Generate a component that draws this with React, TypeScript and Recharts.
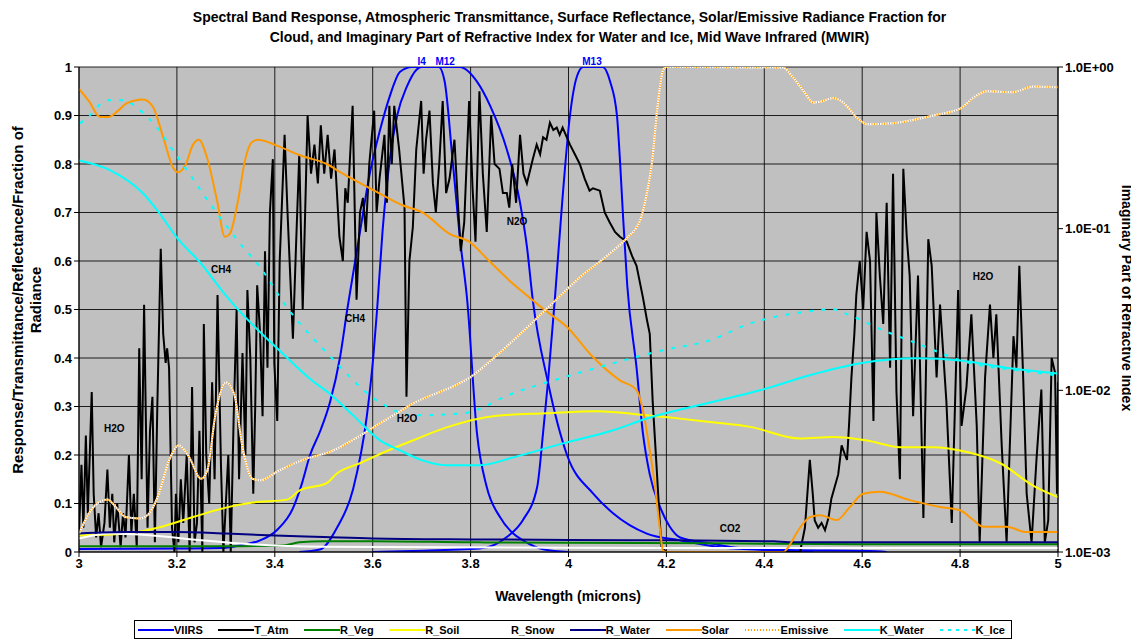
import { LineChart, Line, XAxis, YAxis, CartesianGrid, ReferenceDot } from 'recharts'

type Pt = [number, number]

const xTicks = [3, 3.2, 3.4, 3.6, 3.8, 4, 4.2, 4.4, 4.6, 4.8, 5]
const leftTicks = [0, 0.1, 0.2, 0.3, 0.4, 0.5, 0.6, 0.7, 0.8, 0.9, 1]
const rightTicks = [0.001, 0.01, 0.1, 1]

// VIIRS band responses (three bands share one legend entry)
const viirsI4: Pt[] = [
  [3.0, 0.006], [3.2, 0.007], [3.288, 0.008], [3.33, 0.014], [3.37, 0.024], [3.404, 0.045], [3.437, 0.09],
  [3.455, 0.14], [3.472, 0.2], [3.493, 0.25], [3.513, 0.31], [3.533, 0.4], [3.548, 0.5], [3.574, 0.66],
  [3.594, 0.78], [3.615, 0.87], [3.635, 0.94], [3.656, 0.99], [3.68, 1.0], [3.72, 1.0], [3.778, 1.0],
  [3.813, 0.97], [3.84, 0.92], [3.874, 0.83], [3.901, 0.72], [3.915, 0.63], [3.927, 0.52], [3.958, 0.35],
  [3.997, 0.2], [4.05, 0.121], [4.091, 0.08], [4.16, 0.038], [4.228, 0.024], [4.31, 0.01], [4.4, 0.004], [4.5, 0.0],
]
const viirsM12: Pt[] = [
  [3.45, 0.0], [3.492, 0.005], [3.527, 0.05], [3.56, 0.13], [3.588, 0.28], [3.601, 0.4], [3.609, 0.5],
  [3.62, 0.66], [3.635, 0.81], [3.65, 0.9], [3.67, 0.96], [3.69, 0.995], [3.7, 1.0], [3.735, 1.0],
  [3.747, 0.97], [3.763, 0.81], [3.779, 0.64], [3.793, 0.52], [3.813, 0.245], [3.833, 0.134],
  [3.86, 0.072], [3.887, 0.038], [3.907, 0.024], [3.95, 0.005], [4.0, 0.0],
]
const viirsM13: Pt[] = [
  [3.6, 0.0], [3.68, 0.002], [3.819, 0.007], [3.874, 0.031], [3.907, 0.066], [3.936, 0.134], [3.948, 0.245],
  [3.958, 0.35], [3.972, 0.52], [3.987, 0.72], [4.003, 0.9], [4.017, 0.98], [4.03, 1.0], [4.07, 1.0],
  [4.085, 0.97], [4.099, 0.9], [4.105, 0.81], [4.111, 0.7], [4.12, 0.55], [4.139, 0.38], [4.152, 0.245],
  [4.166, 0.16], [4.187, 0.093], [4.207, 0.052], [4.228, 0.03], [4.289, 0.018], [4.35, 0.008], [4.45, 0.004],
  [4.616, 0.002], [4.65, 0.0],
]

const tAtm: Pt[] = [
  [3.0, 0.04], [3.005, 0.18], [3.009, 0.05], [3.014, 0.24], [3.018, 0.08], [3.022, 0.2], [3.026, 0.33], [3.03, 0.12],
  [3.035, 0.03], [3.04, 0.08], [3.045, 0.01], [3.052, 0.06], [3.058, 0.17], [3.063, 0.05], [3.068, 0.12], [3.072, 0.02],
  [3.078, 0.1], [3.085, 0.01], [3.09, 0.08], [3.095, 0.03], [3.102, 0.2], [3.107, 0.04], [3.112, 0.12], [3.118, 0.01],
  [3.123, 0.42], [3.128, 0.15], [3.133, 0.51], [3.14, 0.05], [3.145, 0.25], [3.15, 0.32], [3.155, 0.02], [3.16, 0.3],
  [3.167, 0.625], [3.172, 0.45], [3.177, 0.39], [3.18, 0.42], [3.184, 0.38], [3.19, 0.05], [3.195, 0.0], [3.198, 0.12],
  [3.203, 0.02], [3.208, 0.15], [3.213, 0.06], [3.22, 0.2], [3.226, 0.0], [3.231, 0.34], [3.236, 0.02], [3.241, 0.06],
  [3.246, 0.25], [3.252, 0.0], [3.255, 0.47], [3.26, 0.2], [3.266, 0.1], [3.272, 0.35], [3.277, 0.15], [3.283, 0.53],
  [3.29, 0.18], [3.295, 0.0], [3.3, 0.1], [3.305, 0.2], [3.31, 0.0], [3.316, 0.28], [3.322, 0.5], [3.327, 0.15],
  [3.334, 0.41], [3.34, 0.2], [3.344, 0.54], [3.35, 0.4], [3.356, 0.12], [3.36, 0.3], [3.364, 0.55], [3.37, 0.45],
  [3.375, 0.28], [3.38, 0.62], [3.385, 0.38], [3.39, 0.7], [3.396, 0.81], [3.399, 0.39], [3.405, 0.27], [3.41, 0.6],
  [3.42, 0.86], [3.426, 0.7], [3.437, 0.44], [3.443, 0.62], [3.45, 0.82], [3.457, 0.5], [3.462, 0.7], [3.467, 0.9],
  [3.474, 0.78], [3.481, 0.84], [3.488, 0.76], [3.494, 0.88], [3.501, 0.78], [3.508, 0.86], [3.515, 0.77], [3.522, 0.83],
  [3.532, 0.65], [3.539, 0.6], [3.544, 0.75], [3.549, 0.72], [3.559, 0.92], [3.567, 0.52], [3.574, 0.7], [3.58, 0.73],
  [3.586, 0.66], [3.593, 0.8], [3.603, 0.91], [3.608, 0.7], [3.614, 0.77], [3.624, 0.86], [3.629, 0.72], [3.634, 0.92],
  [3.639, 0.8], [3.644, 0.92], [3.654, 0.83], [3.665, 0.71], [3.669, 0.32], [3.675, 0.6], [3.682, 0.67], [3.689, 0.83],
  [3.699, 0.93], [3.704, 0.78], [3.709, 0.85], [3.716, 0.91], [3.723, 0.76], [3.729, 0.7], [3.736, 0.8], [3.743, 0.93],
  [3.75, 0.74], [3.757, 0.77], [3.767, 0.85], [3.774, 0.72], [3.78, 0.62], [3.787, 0.68], [3.797, 0.93], [3.804, 0.75],
  [3.81, 0.64], [3.818, 0.95], [3.825, 0.78], [3.833, 0.66], [3.842, 0.9], [3.849, 0.8], [3.859, 0.79], [3.866, 0.74],
  [3.874, 0.74], [3.879, 0.71], [3.885, 0.8], [3.893, 0.72], [3.901, 0.86], [3.908, 0.78], [3.915, 0.76], [3.927, 0.81],
  [3.935, 0.84], [3.942, 0.82], [3.948, 0.855], [3.955, 0.85], [3.962, 0.885], [3.969, 0.87], [3.976, 0.875], [3.982, 0.86],
  [3.988, 0.875], [4.003, 0.84], [4.013, 0.82], [4.023, 0.8], [4.033, 0.77], [4.043, 0.745], [4.05, 0.75], [4.064, 0.745],
  [4.074, 0.7], [4.084, 0.68], [4.095, 0.66], [4.105, 0.65], [4.119, 0.64], [4.13, 0.61], [4.139, 0.59], [4.152, 0.525],
  [4.16, 0.48], [4.166, 0.45], [4.172, 0.31], [4.18, 0.175], [4.186, 0.07], [4.19, 0.01], [4.2, 0.0], [4.473, 0.0],
  [4.483, 0.05], [4.493, 0.19], [4.499, 0.12], [4.503, 0.065], [4.51, 0.05], [4.517, 0.06], [4.524, 0.045], [4.531, 0.07],
  [4.537, 0.11], [4.551, 0.16], [4.558, 0.22], [4.565, 0.2], [4.569, 0.19], [4.573, 0.26], [4.578, 0.36], [4.584, 0.45],
  [4.588, 0.53], [4.595, 0.6], [4.602, 0.5], [4.609, 0.66], [4.616, 0.6], [4.623, 0.27], [4.629, 0.7], [4.636, 0.57],
  [4.643, 0.47], [4.65, 0.72], [4.657, 0.38], [4.663, 0.78], [4.67, 0.33], [4.677, 0.15], [4.684, 0.79], [4.691, 0.65],
  [4.697, 0.57], [4.704, 0.28], [4.714, 0.57], [4.725, 0.07], [4.735, 0.645], [4.742, 0.59], [4.752, 0.36], [4.759, 0.51],
  [4.772, 0.31], [4.783, 0.06], [4.796, 0.54], [4.803, 0.26], [4.813, 0.34], [4.823, 0.49], [4.834, 0.26], [4.84, 0.02],
  [4.851, 0.36], [4.861, 0.51], [4.868, 0.4], [4.874, 0.49], [4.885, 0.22], [4.895, 0.02], [4.909, 0.445], [4.915, 0.38],
  [4.921, 0.59], [4.929, 0.355], [4.936, 0.12], [4.946, 0.02], [4.956, 0.19], [4.966, 0.335], [4.973, 0.02], [4.98, 0.065],
  [4.987, 0.4], [4.994, 0.37], [4.998, 0.12], [5.0, 0.35],
]

const rVeg: Pt[] = [
  [3.0, 0.012], [3.3, 0.012], [3.42, 0.014], [3.45, 0.02], [3.5, 0.022], [3.6, 0.022], [3.8, 0.02],
  [4.0, 0.019], [4.3, 0.018], [4.6, 0.016], [5.0, 0.016],
]
const rSoil: Pt[] = [
  [3.0, 0.034], [3.097, 0.038], [3.165, 0.051], [3.233, 0.072], [3.302, 0.092], [3.355, 0.102], [3.425, 0.108],
  [3.451, 0.127], [3.506, 0.142], [3.527, 0.162], [3.574, 0.183], [3.615, 0.202], [3.682, 0.23], [3.751, 0.257],
  [3.854, 0.281], [3.956, 0.286], [4.058, 0.29], [4.16, 0.282], [4.228, 0.275], [4.289, 0.268], [4.371, 0.258],
  [4.473, 0.234], [4.54, 0.237], [4.61, 0.23], [4.677, 0.216], [4.745, 0.216], [4.814, 0.206], [4.882, 0.183],
  [4.949, 0.137], [5.0, 0.113],
]
const rSnow: Pt[] = [
  [3.0, 0.028], [3.063, 0.038], [3.15, 0.034], [3.25, 0.024], [3.35, 0.016], [3.5, 0.011], [4.0, 0.009],
  [4.5, 0.008], [5.0, 0.008],
]
const rWater: Pt[] = [
  [3.0, 0.038], [3.1, 0.041], [3.2, 0.041], [3.3, 0.038], [3.4, 0.034], [3.5, 0.031], [3.6, 0.028],
  [3.8, 0.026], [4.0, 0.025], [4.2, 0.024], [4.42, 0.022], [4.45, 0.02], [5.0, 0.02],
]
const solar: Pt[] = [
  [3.0, 0.955], [3.02, 0.93], [3.043, 0.897], [3.06, 0.897], [3.08, 0.91], [3.097, 0.925], [3.131, 0.933],
  [3.151, 0.918], [3.172, 0.855], [3.192, 0.793], [3.202, 0.783], [3.217, 0.797], [3.233, 0.84], [3.245, 0.85],
  [3.261, 0.815], [3.282, 0.725], [3.298, 0.65], [3.308, 0.656], [3.325, 0.725], [3.339, 0.807], [3.353, 0.845],
  [3.366, 0.85], [3.404, 0.838], [3.451, 0.818], [3.506, 0.8], [3.539, 0.78], [3.594, 0.75], [3.631, 0.73],
  [3.661, 0.715], [3.702, 0.7], [3.757, 0.656], [3.797, 0.64], [3.838, 0.6], [3.879, 0.56], [3.92, 0.525],
  [3.95, 0.5], [3.997, 0.464], [4.05, 0.402], [4.105, 0.354], [4.139, 0.334], [4.152, 0.292], [4.166, 0.21],
  [4.177, 0.134], [4.187, 0.045], [4.193, 0.003], [4.2, 0.0], [4.44, 0.0], [4.445, 0.005], [4.473, 0.05],
  [4.493, 0.072], [4.514, 0.076], [4.548, 0.066], [4.575, 0.093], [4.602, 0.12], [4.636, 0.124], [4.697, 0.107],
  [4.759, 0.093], [4.8, 0.086], [4.827, 0.066], [4.847, 0.052], [4.895, 0.052], [4.936, 0.041], [5.0, 0.041],
]
const emissive: Pt[] = [
  [3.0, 0.038], [3.02, 0.079], [3.041, 0.103], [3.058, 0.108], [3.075, 0.093], [3.095, 0.072], [3.123, 0.069],
  [3.143, 0.079], [3.163, 0.12], [3.184, 0.189], [3.204, 0.22], [3.225, 0.196], [3.249, 0.151], [3.262, 0.168],
  [3.279, 0.285], [3.3, 0.35], [3.317, 0.326], [3.334, 0.216], [3.354, 0.151], [3.371, 0.148], [3.409, 0.168],
  [3.463, 0.192], [3.511, 0.206], [3.615, 0.265], [3.682, 0.306], [3.799, 0.36], [3.887, 0.436], [3.956, 0.502],
  [4.023, 0.566], [4.091, 0.621], [4.12, 0.648], [4.146, 0.683], [4.16, 0.739], [4.171, 0.807], [4.181, 0.91],
  [4.193, 0.993], [4.2, 1.0], [4.438, 0.999], [4.459, 0.978], [4.48, 0.951], [4.5, 0.927], [4.52, 0.93],
  [4.54, 0.936], [4.561, 0.927], [4.589, 0.896], [4.61, 0.882], [4.663, 0.884], [4.745, 0.9], [4.8, 0.914],
  [4.826, 0.936], [4.855, 0.95], [4.908, 0.948], [4.949, 0.96], [5.0, 0.958],
]
// imaginary refractive index (right, log axis)
const kWater: Pt[] = [
  [3.0, 0.264], [3.063, 0.23], [3.131, 0.165], [3.165, 0.124], [3.2, 0.088], [3.247, 0.062], [3.302, 0.038],
  [3.321, 0.0326], [3.409, 0.0177], [3.476, 0.0115], [3.511, 0.0096], [3.56, 0.007], [3.615, 0.0049],
  [3.656, 0.00425], [3.7, 0.0037], [3.751, 0.00344], [3.819, 0.00344], [3.887, 0.00385], [3.989, 0.0047],
  [4.091, 0.00566], [4.16, 0.0067], [4.289, 0.0084], [4.391, 0.01], [4.493, 0.0124], [4.596, 0.0147],
  [4.712, 0.0158], [4.8, 0.0153], [4.902, 0.0137], [5.0, 0.0127],
]
const kIce: Pt[] = [
  [3.002, 0.448], [3.022, 0.502], [3.057, 0.622], [3.09, 0.622], [3.125, 0.539], [3.159, 0.424], [3.192, 0.305],
  [3.221, 0.229], [3.253, 0.165], [3.288, 0.1175], [3.329, 0.0811], [3.37, 0.0577], [3.425, 0.0326],
  [3.511, 0.0165], [3.615, 0.0084], [3.682, 0.007], [3.784, 0.0072], [3.887, 0.0096], [3.989, 0.012],
  [4.091, 0.0147], [4.193, 0.0177], [4.289, 0.0204], [4.371, 0.0259], [4.473, 0.0303], [4.54, 0.0317],
  [4.575, 0.0291], [4.643, 0.0235], [4.712, 0.0195], [4.814, 0.0149], [4.916, 0.0133], [4.998, 0.0124],
]

const gasLabels = [
  { text: 'H2O', x: 3.072, y: 0.255 },
  { text: 'CH4', x: 3.29, y: 0.582 },
  { text: 'CH4', x: 3.564, y: 0.482 },
  { text: 'H2O', x: 3.67, y: 0.276 },
  { text: 'N2O', x: 3.895, y: 0.681 },
  { text: 'CO2', x: 4.33, y: 0.049 },
  { text: 'H2O', x: 4.847, y: 0.569 },
]
const bandLabels = [
  { text: 'I4', x: 3.7, y: 1.012 },
  { text: 'M12', x: 3.748, y: 1.012 },
  { text: 'M13', x: 4.048, y: 1.012 },
]

const legendItems = [
  { name: 'VIIRS', color: '#0000FF' },
  { name: 'T_Atm', color: '#000000' },
  { name: 'R_Veg', color: '#008000' },
  { name: 'R_Soil', color: '#FFFF00' },
  { name: 'R_Snow', color: '#FFFFFF' },
  { name: 'R_Water', color: '#000080' },
  { name: 'Solar', color: '#FF9900' },
  { name: 'Emissive', color: '#FF9900', dotted: true },
  { name: 'K_Water', color: '#00FFFF' },
  { name: 'K_Ice', color: '#00FFFF', dashed: true },
]

const pts = (arr: Pt[]) => arr.map(([x, y]) => ({ x, y }))

const FONT = '"Liberation Sans", Arial, sans-serif'
const tickStyle = { fontSize: 13, fontWeight: 'bold', fill: '#000', fontFamily: FONT }

const fmtLeft = (v: number) => (v === 0 || v === 1 ? String(v) : v.toFixed(1))
const fmtRight = (v: number) => {
  const e = Math.round(Math.log10(v))
  return `1.0E${e < 0 ? '-' : '+'}${String(Math.abs(e)).padStart(2, '0')}`
}
const fmtX = (v: number) => (Number.isInteger(v) ? String(v) : v.toFixed(1))

function Legend() {
  return (
    <div
      style={{
        position: 'absolute', left: 126, top: 612, width: 878, height: 19,
        border: '1px solid #000', background: '#fff', display: 'flex', alignItems: 'center',
        justifyContent: 'space-between', padding: '0 6px 0 3px', boxSizing: 'border-box',
        fontFamily: FONT, fontSize: 11, fontWeight: 'bold',
      }}
    >
      {legendItems.map((it) => (
        <div key={it.name} style={{ display: 'flex', alignItems: 'center' }}>
          <svg width={36} height={8}>
            {it.dotted && <line x1={0} y1={4} x2={36} y2={4} stroke="#fff" strokeWidth={2} />}
            <line
              x1={0} y1={4} x2={36} y2={4} stroke={it.color} strokeWidth={2}
              strokeDasharray={it.dotted ? '1 2' : it.dashed ? '3 5' : undefined}
            />
          </svg>
          <span>{it.name}</span>
        </div>
      ))}
    </div>
  )
}

export default function App() {
  const common = { dot: false, activeDot: false, isAnimationActive: false, strokeWidth: 2 } as const
  return (
    <div style={{ position: 'relative', width: 1123, height: 633, fontFamily: FONT, fontWeight: 'bold' }}>
      <div style={{ position: 'absolute', left: 0, top: -1, width: 1123, textAlign: 'center', fontSize: 14, lineHeight: '20px' }}>
        Spectral Band Response, Atmospheric Transmittance, Surface Reflectance, Solar/Emissive Radiance Fraction for
        <br />
        Cloud, and Imaginary Part of Refractive Index for Water and Ice, Mid Wave Infrared (MWIR)
      </div>

      <LineChart width={1123} height={625} margin={{ top: 59, right: 0, bottom: 51, left: 0 }}>
        <CartesianGrid fill="#C0C0C0" stroke="#000" strokeOpacity={0.85} />
        <XAxis
          type="number" dataKey="x" domain={[3, 5]} ticks={xTicks} tickFormatter={fmtX}
          allowDataOverflow height={30} tick={tickStyle} stroke="#000" tickSize={5}
        />
        <YAxis
          domain={[0, 1]} ticks={leftTicks} tickFormatter={fmtLeft} allowDataOverflow
          width={71} tick={tickStyle} stroke="#000" tickSize={5}
        />
        <YAxis
          yAxisId="right" orientation="right" scale="log" domain={[0.001, 1]} ticks={rightTicks}
          tickFormatter={fmtRight} allowDataOverflow width={73} tick={tickStyle} stroke="#000" tickSize={5}
        />

        <Line {...common} data={pts(viirsI4)} dataKey="y" stroke="#0000FF" type="monotone" name="VIIRS" />
        <Line {...common} data={pts(viirsM12)} dataKey="y" stroke="#0000FF" type="monotone" legendType="none" />
        <Line {...common} data={pts(viirsM13)} dataKey="y" stroke="#0000FF" type="monotone" legendType="none" />
        <Line {...common} data={pts(tAtm)} dataKey="y" stroke="#000000" type="linear" name="T_Atm" />
        <Line {...common} data={pts(rVeg)} dataKey="y" stroke="#008000" type="monotone" name="R_Veg" />
        <Line {...common} data={pts(rSoil)} dataKey="y" stroke="#FFFF00" type="monotone" name="R_Soil" />
        <Line {...common} data={pts(rSnow)} dataKey="y" stroke="#FFFFFF" type="monotone" name="R_Snow" />
        <Line {...common} data={pts(rWater)} dataKey="y" stroke="#000080" type="monotone" name="R_Water" />
        <Line {...common} data={pts(solar)} dataKey="y" stroke="#FF9900" type="monotone" name="Solar" />
        <Line {...common} data={pts(emissive)} dataKey="y" stroke="#FFFFFF" type="monotone" legendType="none" />
        <Line {...common} data={pts(emissive)} dataKey="y" stroke="#FF9900" strokeDasharray="1 1.5" type="monotone" name="Emissive" />
        <Line {...common} data={pts(kWater)} dataKey="y" yAxisId="right" stroke="#00FFFF" type="monotone" name="K_Water" />
        <Line {...common} data={pts(kIce)} dataKey="y" yAxisId="right" stroke="#00FFFF" strokeDasharray="4 8" type="monotone" name="K_Ice" />

        {gasLabels.map((l, i) => (
          <ReferenceDot
            key={`g${i}`} x={l.x} y={l.y} r={1} fill="none" stroke="none" ifOverflow="visible"
            label={{ value: l.text, position: 'center', fill: '#000', fontSize: 10, fontWeight: 'bold', fontFamily: FONT }}
          />
        ))}
        {bandLabels.map((l, i) => (
          <ReferenceDot
            key={`b${i}`} x={l.x} y={l.y} r={1} fill="none" stroke="none" ifOverflow="visible"
            label={{ value: l.text, position: 'center', fill: '#0000FF', fontSize: 10, fontWeight: 'bold', fontFamily: FONT }}
          />
        ))}
      </LineChart>

      <div
        style={{
          position: 'absolute', left: 27 - 8 - 250, top: 300 - 8 - 18, width: 500, height: 36,
          transform: 'rotate(-90deg)', textAlign: 'center', fontSize: 15, lineHeight: '18px',
        }}
      >
        Response/Transmittance/Reflectance/Fraction of
        <br />
        Radiance
      </div>
      <div
        style={{
          position: 'absolute', left: 1127 - 8 - 200, top: 298 - 8 - 9, width: 400, height: 18,
          transform: 'rotate(90deg)', textAlign: 'center', fontSize: 14, lineHeight: '18px',
        }}
      >
        Imaginary Part of Refractive Index
      </div>
      <div style={{ position: 'absolute', left: 0, top: 579, width: 1120, textAlign: 'center', fontSize: 14, lineHeight: '18px' }}>
        Wavelength (microns)
      </div>

      <Legend />
    </div>
  )
}
